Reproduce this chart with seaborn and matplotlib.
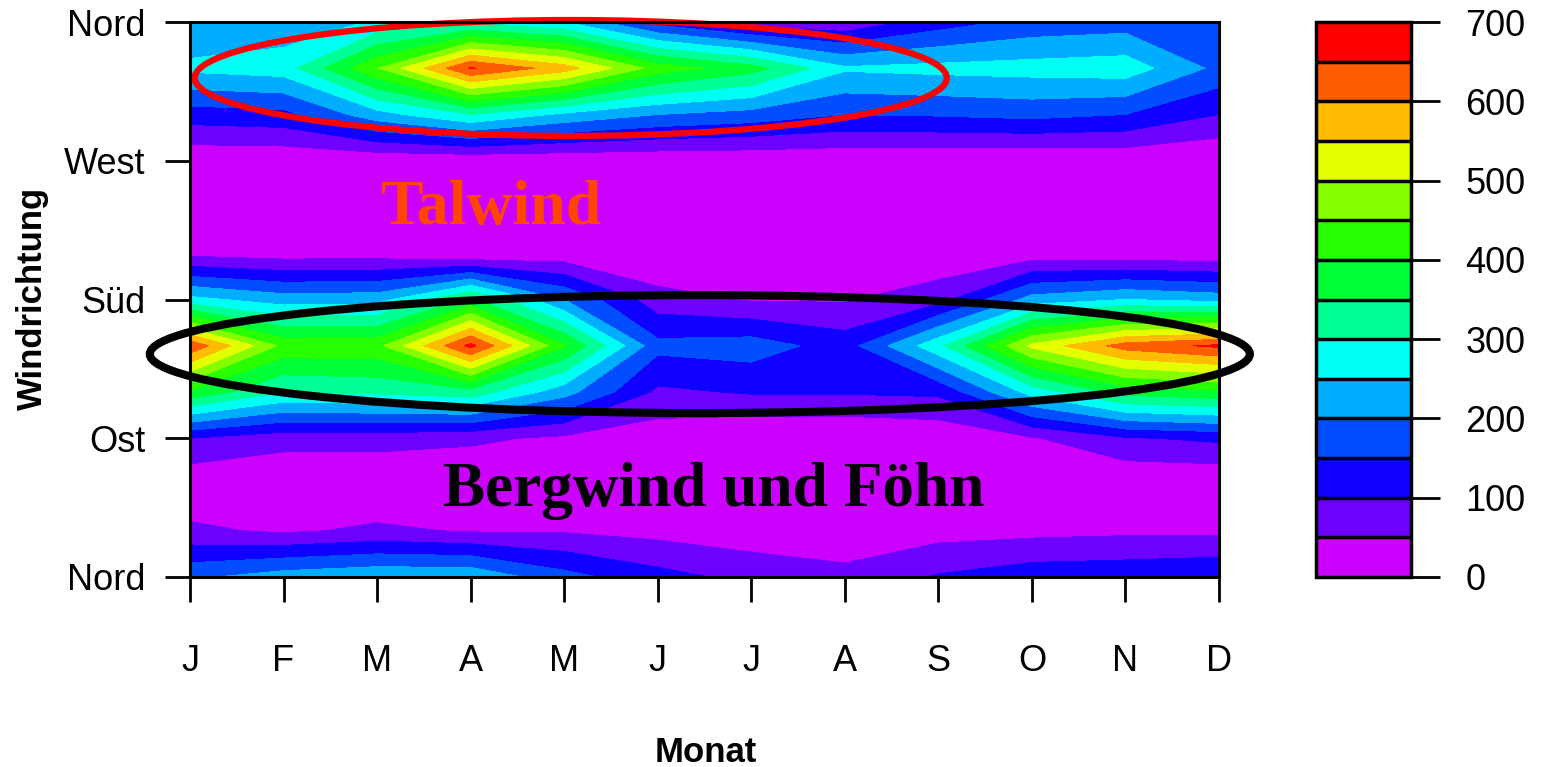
import numpy as np
import matplotlib
matplotlib.use("Agg")
import matplotlib.pyplot as plt
import seaborn as sns
from matplotlib.colors import hsv_to_rgb
from matplotlib.patches import Ellipse

sns.set_style("white")
plt.rcParams['font.family'] = ['Liberation Sans', 'DejaVu Sans']
plt.rcParams['text.color'] = 'black'
plt.rcParams['xtick.color'] = 'black'
plt.rcParams['ytick.color'] = 'black'
plt.rcParams['axes.labelcolor'] = 'black'

# Monate (x) und Windrichtung in Grad (y)
months = ["J", "F", "M", "A", "M", "J", "J", "A", "S", "O", "N", "D"]
month_pos = list(range(1, 13))
directions = [0, 30, 60, 90, 120, 150, 180, 210, 240, 270, 300, 330, 360]
dir_ticks = [0, 90, 180, 270, 360]
dir_labels = ["Nord", "Ost", "Süd", "West", "Nord"]
levels = list(range(0, 701, 50))
cbar_ticks = list(range(0, 701, 100))

# Anzahl je Monat, eine Liste pro Richtung
n_000 = [190, 225, 240, 240, 168, 118, 85, 65, 105, 130, 135, 145]
n_030 = [60, 42, 60, 45, 45, 33, 20, 15, 30, 35, 40, 40]
n_060 = [10, 2, 2, 2, 2, 2, 0, 0, 0, 2, 2, 2]
n_090 = [100, 70, 70, 60, 40, 20, 0, 0, 10, 45, 95, 110]
n_120 = [390, 300, 310, 330, 220, 90, 105, 105, 110, 270, 370, 390]
n_150 = [640, 435, 435, 665, 405, 165, 175, 127, 285, 512, 623, 660]
n_180 = [265, 225, 230, 360, 200, 70, 45, 45, 80, 220, 250, 230]
n_210 = [35, 25, 25, 0, 15, 0, 0, 0, 10, 20, 15, 10]
n_240 = [3, 3, 3, 3, 3, 3, 3, 3, 3, 3, 3, 3]
n_270 = [10, 10, 10, 10, 10, 10, 10, 10, 10, 5, 10, 0]
n_300 = [125, 135, 230, 300, 240, 200, 180, 150, 155, 165, 150, 100]
n_330 = [262, 275, 447, 655, 575, 428, 372, 257, 265, 270, 278, 186]
n_360 = [205, 220, 255, 285, 250, 130, 65, 60, 125, 165, 175, 175]

Z = np.array([n_000, n_030, n_060, n_090, n_120, n_150, n_180,
              n_210, n_240, n_270, n_300, n_330, n_360], dtype=float)

# rainbow wie in R: von Magenta (0) bis Rot (700)
hues = np.linspace(0, 0.8, len(levels) - 1)[::-1]
colors = [hsv_to_rgb((h, 1, 1)) for h in hues]

fig = plt.figure(figsize=(15.41, 7.67), dpi=100)
ax = fig.add_axes([190 / 1541, 1 - 577 / 767, 1029 / 1541, 555 / 767])
cax = fig.add_axes([1316 / 1541, 1 - 577 / 767, 95 / 1541, 555 / 767])

cs = ax.contourf(month_pos, directions, Z, levels=levels, colors=colors,
                 antialiased=False)
ax.set_xlim(1, 12)
ax.set_ylim(0, 360)
ax.set_xticks(month_pos)
ax.set_xticklabels(months)
ax.set_yticks(dir_ticks)
ax.set_yticklabels(dir_labels)
ax.tick_params(axis='x', length=18, width=2, pad=30, labelsize=26,
               bottom=True, direction='out', colors='black')
ax.tick_params(axis='y', length=18, width=2, pad=14, labelsize=26,
               left=True, direction='out', colors='black')
for s in ax.spines.values():
    s.set_linewidth(2.2)
    s.set_color('black')

fig.text(32 / 1541, 1 - 298 / 767, "Windrichtung", rotation=90,
         fontsize=25, fontweight='bold', ha='center', va='center')
fig.text(706 / 1541, 1 - 752 / 767, "Monat", fontsize=25,
         fontweight='bold', ha='center', va='center')

# Beschriftungen im Bild
ax.text(4.22, 238.5, "Talwind", fontsize=46, fontweight='bold',
        family='Liberation Serif', color='#FF4500', ha='center', va='center')
ax.text(6.6, 55.8, "Bergwind und Föhn", fontsize=45.5, fontweight='bold',
        family='Liberation Serif', color='black', ha='center', va='center')

ax.add_patch(Ellipse((5.07, 323.7), 8.04, 75.2, fill=False,
                     edgecolor='red', linewidth=4.5, clip_on=False))
ax.add_patch(Ellipse((6.45, 144.6), 11.76, 76.5, fill=False,
                     edgecolor='black', linewidth=5.8, clip_on=False))

cb = fig.colorbar(cs, cax=cax, drawedges=True, ticks=cbar_ticks)
cb.dividers.set_linewidth(2.5)
cb.dividers.set_color('black')
cb.outline.set_linewidth(2.5)
cb.outline.set_edgecolor('black')
cax.tick_params(length=21, width=2, pad=18, labelsize=26, right=True,
                colors='black')

fig.savefig("out.png", dpi=100, facecolor='white')
